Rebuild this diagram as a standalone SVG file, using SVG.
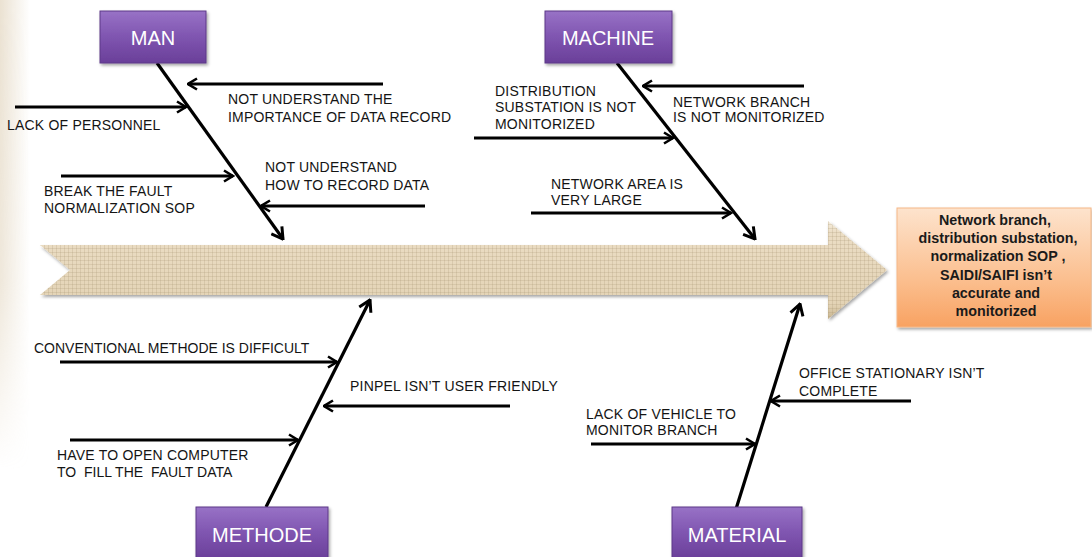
<svg xmlns="http://www.w3.org/2000/svg" width="1092" height="557" viewBox="0 0 1092 557">
<style>
.lbl{font-family:"Liberation Sans",Arial,sans-serif;font-size:14px;fill:#141414;letter-spacing:0.2px}
.tight{letter-spacing:0}
.pre{white-space:pre}
.cat{font-family:"Liberation Sans",Arial,sans-serif;font-size:20px;fill:#ffffff;text-anchor:middle}
.eff{font-family:"Liberation Sans",Arial,sans-serif;font-size:14.3px;font-weight:bold;fill:#1a1a1a;text-anchor:middle}
.pbox{fill:url(#purp);stroke:#5d3888;stroke-width:1;filter:url(#sh)}
.br{stroke:#000;stroke-width:3;fill:none;marker-end:url(#ah)}
.sp{stroke:#000;stroke-width:3.2;fill:none;marker-end:url(#ahb)}
</style>
<defs>
<linearGradient id="purp" x1="0" y1="0" x2="0" y2="1">
<stop offset="0" stop-color="#9872c6"/>
<stop offset="0.5" stop-color="#7f55b0"/>
<stop offset="1" stop-color="#6a3f99"/>
</linearGradient>
<linearGradient id="orng" x1="0" y1="0" x2="0" y2="1">
<stop offset="0" stop-color="#fde3cd"/>
<stop offset="0.6" stop-color="#fbbf8f"/>
<stop offset="1" stop-color="#f8a262"/>
</linearGradient>
<linearGradient id="fab" x1="0" y1="0" x2="0" y2="1">
<stop offset="0" stop-color="#f4ecdc"/>
<stop offset="0.12" stop-color="#ebddc4"/>
<stop offset="0.85" stop-color="#e3d3b5"/>
<stop offset="1" stop-color="#c9b690"/>
</linearGradient>
<linearGradient id="edge" x1="0" y1="0" x2="1" y2="0">
<stop offset="0" stop-color="#d6c4a4" stop-opacity="0.5"/>
<stop offset="1" stop-color="#d6c4a4" stop-opacity="0"/>
</linearGradient>
<linearGradient id="vfade" x1="0" y1="0" x2="0" y2="1">
<stop offset="0" stop-color="#fff" stop-opacity="1"/>
<stop offset="0.6" stop-color="#fff" stop-opacity="0.8"/>
<stop offset="1" stop-color="#fff" stop-opacity="0"/>
</linearGradient>
<mask id="m-edge"><rect x="0" y="0" width="30" height="470" fill="url(#vfade)"/></mask>
<pattern id="weave" width="4" height="4" patternUnits="userSpaceOnUse">
<path d="M0,0.5 H4 M0.5,0 V4" stroke="#a08c68" stroke-width="0.7" stroke-opacity="0.3"/>
</pattern>
<filter id="sh" x="-10%" y="-10%" width="125%" height="130%">
<feDropShadow dx="1.5" dy="2" stdDeviation="1.5" flood-color="#000" flood-opacity="0.35"/>
</filter>
<marker id="ah" viewBox="0 0 12 14" refX="10.5" refY="7" markerWidth="12" markerHeight="14" markerUnits="userSpaceOnUse" orient="auto">
<path d="M1.5,1.5 L10.5,7 L1.5,12.5" fill="none" stroke="#000" stroke-width="2.6"/>
</marker>
<marker id="ahb" viewBox="0 0 14 16" refX="12.5" refY="8" markerWidth="14" markerHeight="16" markerUnits="userSpaceOnUse" orient="auto">
<path d="M1.5,1.5 L12.5,8 L1.5,14.5" fill="none" stroke="#000" stroke-width="3"/>
</marker>
</defs>
<rect x="0" y="0" width="1092" height="557" fill="#ffffff"/>
<rect x="0" y="0" width="30" height="470" fill="url(#edge)" mask="url(#m-edge)"/>

<g id="backbone" filter="url(#sh)">
<path d="M40,245 L828,245 L828,221 L887,270 L828,319 L828,295 L40,295 L70,270 Z" fill="url(#fab)"/>
<path d="M40,245 L828,245 L828,221 L887,270 L828,319 L828,295 L40,295 L70,270 Z" fill="url(#weave)"/>
</g>

<g id="connectors">
<path class="sp" d="M157,63 L283,239"/>
<path class="sp" d="M617,63 L755,239"/>
<path class="sp" d="M266,507 L370,300"/>
<path class="sp" d="M736,509 L800,304"/>
<path class="br" d="M383,84 L188,84"/>
<path class="br" d="M15,107 L186,107"/>
<path class="br" d="M61,176 L233,176"/>
<path class="br" d="M425,206 L261,206"/>
<path class="br" d="M804,86 L643,86"/>
<path class="br" d="M474,138 L673,138"/>
<path class="br" d="M531,213 L731,213"/>
<path class="br" d="M60,362 L337,362"/>
<path class="br" d="M510,406 L324,406"/>
<path class="br" d="M70,440 L298,440"/>
<path class="br" d="M911,401 L771,401"/>
<path class="br" d="M591,444 L755,444"/>
</g>

<g id="man"><rect class="pbox" x="100" y="11" width="106" height="52"/><text class="cat" x="153" y="45">MAN</text></g>
<g id="machine"><rect class="pbox" x="545" y="11" width="127" height="52"/><text class="cat" x="608" y="45">MACHINE</text></g>
<g id="methode"><rect class="pbox" x="196" y="507" width="132" height="52"/><text class="cat" x="262" y="542">METHODE</text></g>
<g id="material"><rect class="pbox" x="672" y="507" width="130" height="52"/><text class="cat" x="737" y="542">MATERIAL</text></g>

<g id="effect">
<rect x="897" y="208" width="194" height="119" fill="url(#orng)" stroke="#f6b887" stroke-width="1" filter="url(#sh)"/>
<text class="eff" x="995" y="225">Network branch,</text>
<text class="eff" x="998" y="243">distribution substation,</text>
<text class="eff" x="998" y="261">normalization SOP ,</text>
<text class="eff" x="996" y="280">SAIDI/SAIFI isn’t</text>
<text class="eff" x="996" y="298">accurate and</text>
<text class="eff" x="996" y="316">monitorized</text>
</g>

<g id="labels">
<text class="lbl" x="228" y="104">NOT UNDERSTAND THE</text>
<text class="lbl" x="228" y="122">IMPORTANCE OF DATA RECORD</text>
<text class="lbl" x="7" y="130">LACK OF PERSONNEL</text>
<text class="lbl" x="44" y="196">BREAK THE FAULT</text>
<text class="lbl" x="44" y="213">NORMALIZATION SOP</text>
<text class="lbl" x="265" y="172">NOT UNDERSTAND</text>
<text class="lbl" x="265" y="190">HOW TO RECORD DATA</text>
<text class="lbl" x="495" y="96">DISTRIBUTION</text>
<text class="lbl" x="495" y="112">SUBSTATION IS NOT</text>
<text class="lbl" x="495" y="129">MONITORIZED</text>
<text class="lbl" x="673" y="107">NETWORK BRANCH</text>
<text class="lbl" x="673" y="122">IS NOT MONITORIZED</text>
<text class="lbl" x="551" y="189">NETWORK AREA IS</text>
<text class="lbl" x="551" y="205">VERY LARGE</text>
<text class="lbl tight" x="34" y="353">CONVENTIONAL METHODE IS DIFFICULT</text>
<text class="lbl" x="350" y="391">PINPEL ISN’T USER FRIENDLY</text>
<text class="lbl" x="57" y="460">HAVE TO OPEN COMPUTER</text>
<text class="lbl tight pre" x="57" y="477">TO  FILL THE  FAULT DATA</text>
<text class="lbl" x="799" y="378">OFFICE STATIONARY ISN’T</text>
<text class="lbl" x="799" y="396">COMPLETE</text>
<text class="lbl" x="586" y="419">LACK OF VEHICLE TO</text>
<text class="lbl" x="586" y="435">MONITOR BRANCH</text>
</g>
</svg>
